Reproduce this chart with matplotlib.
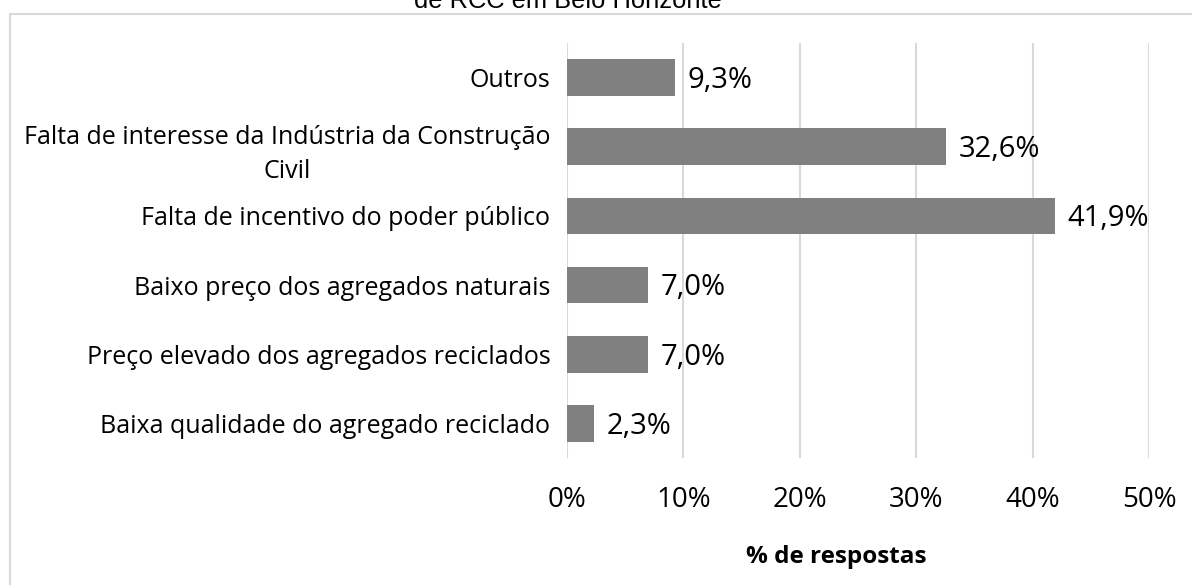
import matplotlib.pyplot as plt
from matplotlib.patches import Rectangle

categories = ['Baixa qualidade do agregado reciclado',
              'Preço elevado dos agregados reciclados',
              'Baixo preço dos agregados naturais',
              'Falta de incentivo do poder público',
              'Falta de interesse da Indústria da Construção\nCivil',
              'Outros']
values = [0.023, 0.070, 0.070, 0.419, 0.326, 0.093]
value_labels = ['2,3%', '7,0%', '7,0%', '41,9%', '32,6%', '9,3%']
xticks = [0, 0.1, 0.2, 0.3, 0.4, 0.5]
xtick_labels = ['0%', '10%', '20%', '30%', '40%', '50%']

plt.rcParams['font.family'] = ['Open Sans', 'DejaVu Sans']

fig = plt.figure(figsize=(11.92, 5.85), dpi=100)
W, H = 1192, 585

# chart border (right/bottom edges lie outside the image)
fig.patches.append(Rectangle((10 / W, -0.1), 1.2, 1 - 13.5 / H + 0.1,
                             transform=fig.transFigure, fill=False,
                             edgecolor='#d9d9d9', lw=1.5))
# title (mostly cut off at top)
fig.text(568 / W, 1 - 8 / H, 'de RCC em Belo Horizonte', ha='center', va='baseline',
         fontsize=18.4, family='Liberation Sans', color='#000000')

ax = fig.add_axes([567 / W, 1 - 458 / H, 582 / W, 415 / H])
ax.barh(range(len(values)), values, height=0.53, color='#808080', zorder=3)
for i, (v, lab) in enumerate(zip(values, value_labels)):
    ax.annotate(lab, (v, i), xytext=(9, -2), textcoords='offset points',
                va='center', ha='left', fontsize=21, color='#000000')

ax.set_xlim(0, 0.5)
ax.set_ylim(-0.5, len(values) - 0.5)
ax.set_xticks(xticks)
ax.set_xticklabels(xtick_labels, fontsize=20)
ax.set_yticks(range(len(categories)))
ax.set_yticklabels(categories, fontsize=18, multialignment='center', linespacing=1.5)
ax.tick_params(axis='both', length=0)
ax.tick_params(axis='x', pad=20)
ax.tick_params(axis='y', pad=12)
ax.grid(axis='x', color='#d9d9d9', lw=1.5, zorder=0)
for s in ax.spines.values():
    s.set_visible(False)
ax.set_xlabel('% de respostas', fontsize=17.5, fontweight='bold')
ax.xaxis.set_label_coords(0.462, -0.21)

fig.savefig('out.png', dpi=100)
